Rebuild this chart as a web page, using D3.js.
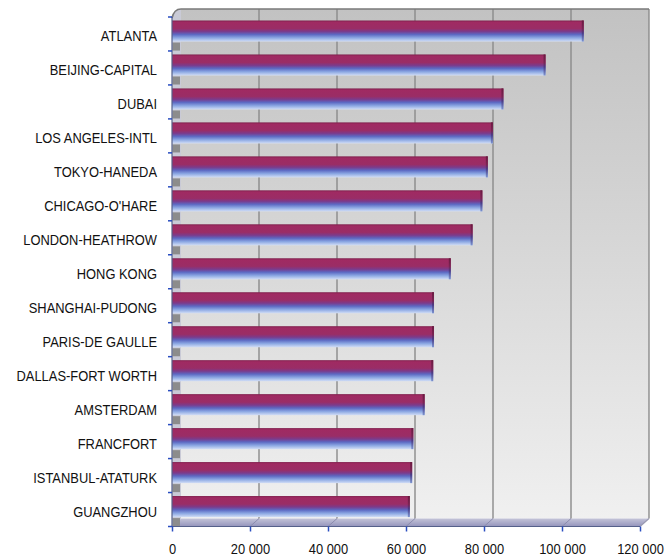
<!DOCTYPE html>
<html>
<head>
<meta charset="utf-8">
<script src="https://cdn.jsdelivr.net/npm/d3@7"></script>
<style>
  body { margin: 0; background: #fff; }
  svg text { font-family: "Liberation Sans", Arial, sans-serif; fill: #111; }
</style>
</head>
<body>
<script>
// Airports, passengers (thousands)
var airports = ["ATLANTA", "BEIJING-CAPITAL", "DUBAI", "LOS ANGELES-INTL", "TOKYO-HANEDA",
  "CHICAGO-O'HARE", "LONDON-HEATHROW", "HONG KONG", "SHANGHAI-PUDONG", "PARIS-DE GAULLE",
  "DALLAS-FORT WORTH", "AMSTERDAM", "FRANCFORT", "ISTANBUL-ATATURK", "GUANGZHOU"];
var passengers = [104300, 94500, 83700, 81000, 79700, 78300, 75800, 70200, 65900, 65900,
  65700, 63500, 60600, 60300, 59700];
var xTicks = [0, 20000, 40000, 60000, 80000, 100000, 120000];

var data = airports.map(function(d, i) { return {name: d, value: passengers[i]}; });

var width = 672, height = 559;
// plot frame (front plane); "top" is reserved on window so use other names
var pLeft = 172, pRight = 640, pTop = 17, pBottom = 526.5;
var dx = 9, dy = -8; // depth offset of back wall

var svg = d3.select("body").append("svg")
  .attr("width", width)
  .attr("height", height);

var x = d3.scaleLinear().domain([0, 120000]).range([pLeft, pRight]);
var y = d3.scaleBand().domain(airports).range([pTop, pBottom]);

var defs = svg.append("defs");

// back wall gradient
var wallGrad = defs.append("linearGradient").attr("id", "wall")
  .attr("x1", 0).attr("y1", 0).attr("x2", 0).attr("y2", 1);
wallGrad.append("stop").attr("offset", "0%").attr("stop-color", "#c2c2c2");
wallGrad.append("stop").attr("offset", "45%").attr("stop-color", "#d6d6d6");
wallGrad.append("stop").attr("offset", "100%").attr("stop-color", "#f0f0f0");

// bar gradient (red top to light blue bottom)
var barGrad = defs.append("linearGradient").attr("id", "bar")
  .attr("x1", 0).attr("y1", 0).attr("x2", 0).attr("y2", 1);
[["0%", "#7e1f4c"], ["8%", "#a02a62"], ["38%", "#9a2d66"], ["52%", "#7b3b8c"],
 ["66%", "#5c68c2"], ["82%", "#8aa6e2"], ["100%", "#d2def6"]].forEach(function(s) {
  barGrad.append("stop").attr("offset", s[0]).attr("stop-color", s[1]);
});

var endGrad = defs.append("linearGradient").attr("id", "barEnd")
  .attr("x1", 0).attr("y1", 0).attr("x2", 0).attr("y2", 1);
[["0%", "#6a1a40"], ["40%", "#7a2454"], ["60%", "#4a3c86"], ["100%", "#7c94d0"]].forEach(function(s) {
  endGrad.append("stop").attr("offset", s[0]).attr("stop-color", s[1]);
});

var floorGrad = defs.append("linearGradient").attr("id", "floor")
  .attr("x1", 0).attr("y1", 0).attr("x2", 0).attr("y2", 1);
floorGrad.append("stop").attr("offset", "0%").attr("stop-color", "#c4c4d8");
floorGrad.append("stop").attr("offset", "100%").attr("stop-color", "#9494bc");

// back wall
svg.append("rect")
  .attr("x", pLeft + dx).attr("y", pTop + dy)
  .attr("width", pRight - pLeft).attr("height", pBottom - pTop)
  .attr("fill", "url(#wall)");

// left wall
svg.append("path")
  .attr("d", "M" + pLeft + "," + (pTop + 1) + " Q" + (pLeft + 2) + "," + (pTop + dy) + " " + (pLeft + dx) + "," + (pTop + dy) +
    " L" + (pLeft + dx) + "," + (pBottom + dy) + " L" + pLeft + "," + pBottom + "Z")
  .attr("fill", "#c9cad6");

// floor
svg.append("path")
  .attr("d", "M" + pLeft + "," + pBottom + " L" + (pLeft + dx) + "," + (pBottom + dy) +
    " L" + (pRight + dx) + "," + (pBottom + dy) + " L" + pRight + "," + pBottom + "Z")
  .attr("fill", "url(#floor)");

// gridlines on back wall
svg.append("g").selectAll("line")
  .data(xTicks.slice(1))
  .enter().append("line")
    .attr("x1", function(d) { return x(d) + dx; })
    .attr("x2", function(d) { return x(d) + dx; })
    .attr("y1", pTop + dy)
    .attr("y2", pBottom + dy)
    .attr("stroke", "#8a8a8a")
    .attr("stroke-width", 1.4);

// gridlines on floor
svg.append("g").selectAll("line")
  .data(xTicks.slice(1, -1))
  .enter().append("line")
    .attr("x1", function(d) { return x(d); })
    .attr("x2", function(d) { return x(d) + dx; })
    .attr("y1", pBottom)
    .attr("y2", pBottom + dy)
    .attr("stroke", "#8c8cae")
    .attr("stroke-width", 1);

// top edge of wall
svg.append("path")
  .attr("d", "M" + pLeft + "," + (pTop + 1) + " Q" + (pLeft + 2) + "," + (pTop + dy) + " " + (pLeft + dx) + "," + (pTop + dy) +
    " L" + (pRight + dx) + "," + (pTop + dy))
  .attr("fill", "none")
  .attr("stroke", "#7a7a7a")
  .attr("stroke-width", 1.6);

// right edge of floor
svg.append("path")
  .attr("d", "M" + (pRight + dx) + "," + (pBottom + dy) + " L" + pRight + "," + pBottom)
  .attr("stroke", "#9a9ab0").attr("stroke-width", 1.2).attr("fill", "none");

var barTop = 3.5, barH = y.bandwidth() * 0.62;

// left wall shading under each bar
svg.append("g").selectAll("rect")
  .data(data)
  .enter().append("rect")
    .attr("x", pLeft + 0.5)
    .attr("y", function(d) { return y(d.name) + barTop + barH + 1; })
    .attr("width", 7.5)
    .attr("height", 8)
    .attr("fill", "#8c8c8c");

// bars
var bars = svg.append("g");
bars.selectAll("rect.bar")
  .data(data)
  .enter().append("rect")
    .attr("class", "bar")
    .attr("x", pLeft)
    .attr("y", function(d) { return y(d.name) + barTop; })
    .attr("width", function(d) { return x(d.value) + 5 - pLeft; })
    .attr("height", barH)
    .attr("fill", "url(#bar)");

bars.selectAll("rect.end")
  .data(data)
  .enter().append("rect")
    .attr("class", "end")
    .attr("x", function(d) { return x(d.value) + 3; })
    .attr("y", function(d) { return y(d.name) + barTop; })
    .attr("width", 2)
    .attr("height", barH)
    .attr("fill", "url(#barEnd)");

// left axis line
svg.append("line")
  .attr("x1", pLeft).attr("x2", pLeft)
  .attr("y1", pTop).attr("y2", pBottom)
  .attr("stroke", "#55608a").attr("stroke-width", 1.2);

// bottom axis line
svg.append("line")
  .attr("x1", pLeft).attr("x2", pRight)
  .attr("y1", pBottom).attr("y2", pBottom)
  .attr("stroke", "#55608a").attr("stroke-width", 1.2);

// category boundary ticks
var bounds = airports.map(function(d) { return y(d); }).concat([pBottom]);
svg.append("g").selectAll("line")
  .data(bounds)
  .enter().append("line")
    .attr("x1", pLeft - 4).attr("x2", pLeft)
    .attr("y1", function(d) { return d; })
    .attr("y2", function(d) { return d; })
    .attr("stroke", "#2a4ec0").attr("stroke-width", 1.5);

// category labels
var yAxis = svg.append("g")
  .attr("transform", "translate(" + pLeft + ",0)")
  .call(d3.axisLeft(y).tickSize(0).tickPadding(15));
yAxis.select(".domain").remove();
yAxis.selectAll("text")
  .attr("x", -15 / 0.89)
  .attr("dy", 0)
  .attr("y", 7)
  .attr("transform", "scale(0.89,1)")
  .style("font-size", "14.5px")
  .style("font-family", "'Liberation Sans', Arial, sans-serif")
  .attr("fill", "#111");

// x axis
var xAxis = svg.append("g")
  .attr("transform", "translate(0," + pBottom + ")")
  .call(d3.axisBottom(x).tickValues(xTicks).tickSizeInner(5).tickSizeOuter(0)
    .tickFormat(function(d) { return d3.format(",")(d).replace(/,/g, " "); }));
xAxis.select(".domain").remove();
xAxis.selectAll("line").attr("stroke", "#2a4ec0").attr("stroke-width", 1.5);
xAxis.selectAll("text")
  .attr("y", 28)
  .attr("dy", 0)
  .attr("transform", "scale(0.89,1)")
  .style("font-size", "14.5px")
  .style("font-family", "'Liberation Sans', Arial, sans-serif")
  .attr("fill", "#111");
</script>
</body>
</html>
